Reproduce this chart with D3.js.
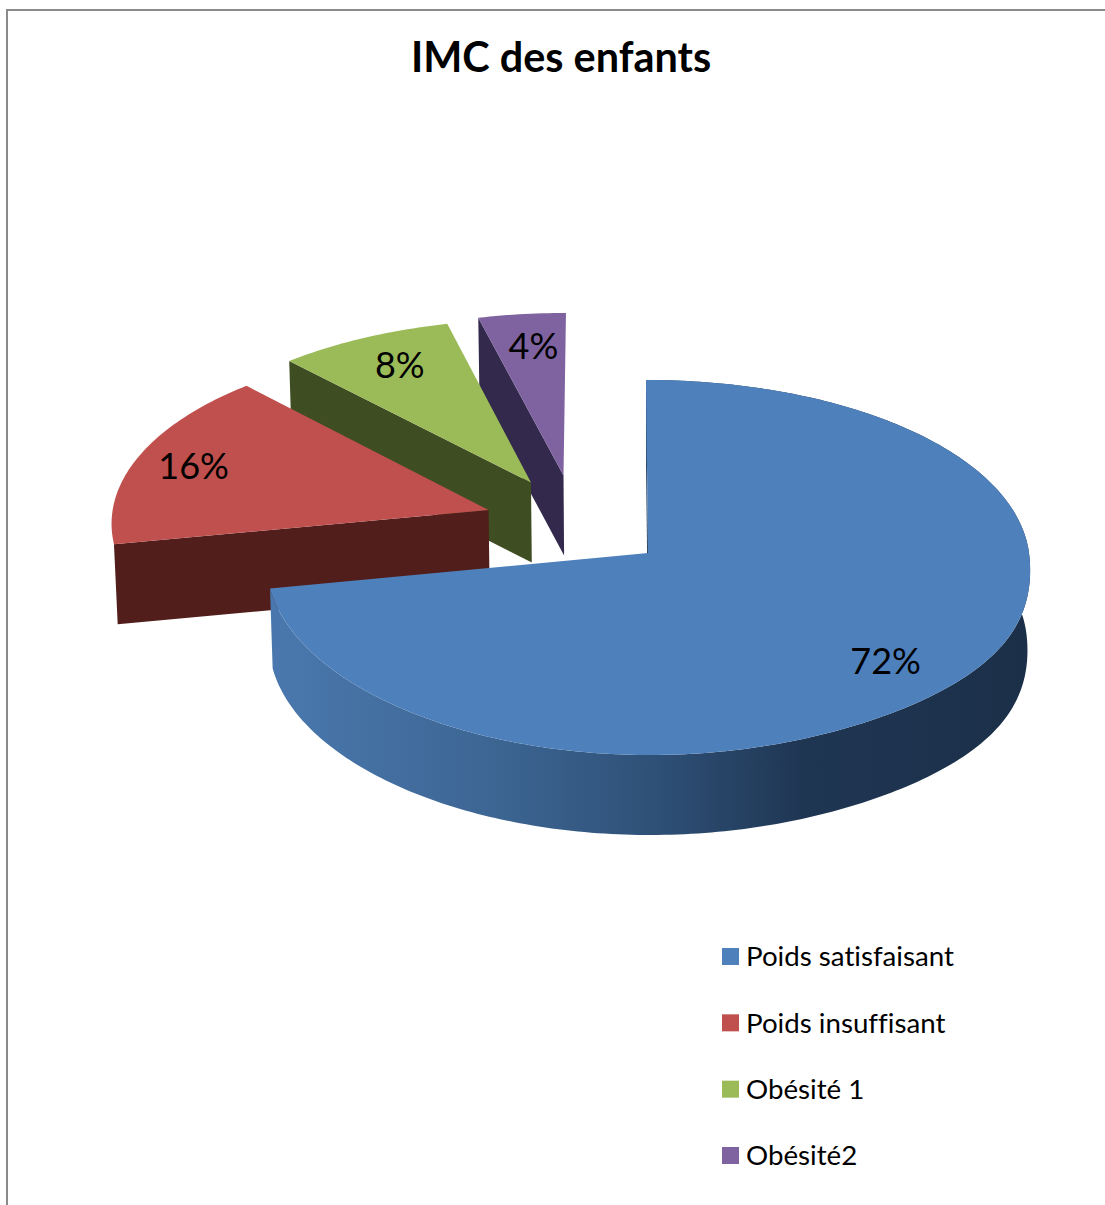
<!DOCTYPE html>
<html>
<head>
<meta charset="utf-8">
<title>IMC des enfants</title>
<script src="https://cdn.jsdelivr.net/npm/d3@7/dist/d3.min.js"></script>
<style>
  html, body { margin: 0; padding: 0; background: #fff; }
  svg { display: block; }
  text { font-family: Lato, "Open Sans", sans-serif; fill: #000; font-variant-ligatures: none; }
</style>
</head>
<body>
<svg id="chart" width="1105" height="1205"></svg>
<script>
// Chart data
const categories = ["Poids satisfaisant", "Poids insuffisant", "Obésité 1", "Obésité2"];
const shares = [72, 16, 8, 4];
const topColours = ["#4e80bc", "#bf504d", "#9bbb59", "#7f63a1"];
const wallColours = ["url(#blueWall)", "#521e1b", "#3f4d22", "#33294c"];

// How far each slice is pulled out of the pie, in disc units (across, depth)
const pullOut = [[0, 0], [-0.423, 0.235], [-0.312, 0.39], [-0.225, 0.43]];
// Where each percentage sits along its slice, as a fraction of the radius
const labelRadius = [0.814, 0.838, 0.796, 0.788];
const labelTurn = [3.5, -0.75, 0.74, 0.65];

const width = 1105, height = 1205;
const pieCentre = { x: 648, y: 553 };
const radius = { x: 381, y: 186.4 };
const perspective = 0.0773;   // convergence with depth
const lateralEase = 0.75;     // horizontal convergence is weaker than vertical
const skew = 2;               // the far side leans slightly to the left
const nearBulge = 65;         // the near right quadrant swells outward
const wallDepth = 80;
const baseShrink = 0.993;

const svg = d3.select("#chart");

// Shading of the blue slice's curved wall, light on the left, dark on the right
const grad = svg.append("defs").append("linearGradient")
  .attr("id", "blueWall")
  .attr("gradientUnits", "userSpaceOnUse")
  .attr("x1", 271).attr("x2", 1031).attr("y1", 0).attr("y2", 0);
[[0, "#4a78ae"], [0.3, "#3c6592"], [0.5, "#2f5178"], [0.7, "#1f3653"], [1, "#1b2f48"]]
  .forEach(([o, c]) => grad.append("stop").attr("offset", o).attr("stop-color", c));

// Chart frame: only the left and top edges are visible
svg.append("path")
  .attr("d", `M7,${height}V10H${width}`)
  .attr("fill", "none").attr("stroke", "#8a8a8a").attr("stroke-width", 2);

// Title
svg.append("text")
  .attr("x", 561).attr("y", 72)
  .attr("text-anchor", "middle")
  .attr("font-weight", 700).attr("font-size", 41.4)
  .text("IMC des enfants");

// Disc coordinates to the screen, with mild perspective; base = 1 is the underside
function project(u, v, base) {
  const ky = 1 / (1 + v * perspective);
  const kx = 1 / (1 + v * perspective * lateralEase);
  const s = base ? baseShrink : 1;
  const swell = u > 0 && v < 0 ? nearBulge * u * u * u * u * v * v : 0;
  return [
    pieCentre.x + (u * radius.x * kx - v * skew + swell) * s,
    pieCentre.y - v * radius.y * ky + (base ? wallDepth : 0)
  ];
}

const pie = d3.pie().sort(null).startAngle(0).endAngle(2 * Math.PI);
const slices = pie(shares);
const line = d3.line().curve(d3.curveLinear);

function arcPoints(s, off) {
  const n = Math.max(8, Math.round((s.endAngle - s.startAngle) * 60));
  return d3.range(n + 1).map(i => {
    const a = s.startAngle + (s.endAngle - s.startAngle) * i / n;
    return [off[0] + Math.sin(a), off[1] + Math.cos(a)];
  });
}

// Back slices are painted first so nearer ones overlap them
d3.range(slices.length - 1, -1, -1).forEach(i => {
  const s = slices[i], off = pullOut[i];
  const rim = arcPoints(s, off);
  const g = svg.append("g").attr("class", "slice");
  const first = rim[0];

  const face = (a, b) => [project(a[0], a[1], 0), project(b[0], b[1], 0),
                          project(b[0], b[1], 1), project(a[0], a[1], 1)];
  // The wall along each slice's leading edge faces the viewer
  g.append("path")
    .attr("d", line(face(off, first)) + "Z")
    .attr("fill", i === 0 ? "#1f3653" : wallColours[i]);
  // Only the big slice turns a curved wall towards the viewer
  const upper = rim.map(p => project(p[0], p[1], 0));
  if (i === 0) {
    const lower = rim.map(p => project(p[0], p[1], 1)).reverse();
    g.append("path")
      .attr("d", line(upper.concat(lower)) + "Z")
      .attr("fill", wallColours[i]);
  }
  // Top face
  const top = [project(off[0], off[1], 0)].concat(upper);
  g.append("path")
    .attr("d", line(top) + "Z")
    .attr("fill", topColours[i]);
});

// Percentage labels
const total = d3.sum(shares);
slices.forEach((s, i) => {
  const mid = (s.startAngle + s.endAngle) / 2 + labelTurn[i] * Math.PI / 180;
  const off = pullOut[i];
  const [x, y] = project(off[0] + labelRadius[i] * Math.sin(mid),
                         off[1] + labelRadius[i] * Math.cos(mid), 0);
  svg.append("text")
    .attr("x", x).attr("y", y)
    .attr("text-anchor", "middle")
    .attr("dy", "0.36em")
    .attr("font-size", 36)
    .text(d3.format(".0%")(s.value / total));
});

// Legend
const legendY = d3.scalePoint().domain(categories).range([956.5, 1155.5]);
const legend = svg.append("g").attr("class", "legend");
categories.forEach((c, i) => {
  legend.append("rect")
    .attr("x", 722).attr("y", legendY(c) - 8.5)
    .attr("width", 17).attr("height", 17)
    .attr("fill", topColours[i]);
  legend.append("text")
    .attr("x", 746).attr("y", legendY(c))
    .attr("dy", "0.35em")
    .attr("font-size", 27.7)
    .text(c);
});
</script>
</body>
</html>
